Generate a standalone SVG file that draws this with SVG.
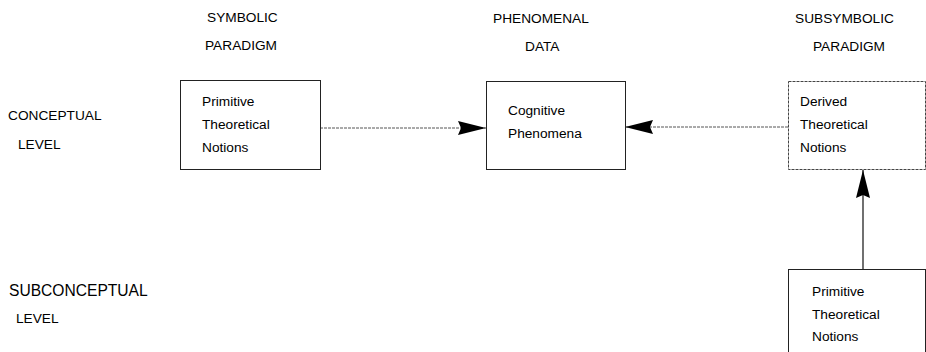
<svg xmlns="http://www.w3.org/2000/svg" width="926" height="352" viewBox="0 0 926 352">
<style>
text{font-family:"Liberation Sans",Arial,sans-serif;font-size:13.7px;fill:#000}
.big{font-size:15.6px}
.box{fill:#fff;stroke:#222;stroke-width:1}
.dbox{fill:#fff;stroke:#444;stroke-width:1;stroke-dasharray:3 1}
.dline{stroke:#555;stroke-width:1;stroke-dasharray:3 1;fill:none}
.sline{stroke:#111;stroke-width:1.2;fill:none}
</style>
<defs>
<marker id="ah" markerUnits="userSpaceOnUse" markerWidth="30" markerHeight="16" refX="28" refY="7" orient="auto">
<path d="M0,0 L28,7 L0,14 L3,7 Z" fill="#000"/>
</marker>
</defs>
<rect width="926" height="352" fill="#fff"/>
<g id="headers">
<text x="207" y="22">SYMBOLIC</text>
<text x="205" y="50">PARADIGM</text>
<text x="493" y="23">PHENOMENAL</text>
<text x="525" y="51">DATA</text>
<text x="795" y="23">SUBSYMBOLIC</text>
<text x="813" y="51">PARADIGM</text>
<text x="8" y="120">CONCEPTUAL</text>
<text x="18" y="149">LEVEL</text>
<text class="big" x="9" y="296">SUBCONCEPTUAL</text>
<text x="16" y="323">LEVEL</text>
</g>
<g id="connectors">
<path class="dline" d="M320,128 L486,128" marker-end="url(#ah)"/>
<path class="dline" d="M788,127 L625,127" marker-end="url(#ah)"/>
<path class="sline" d="M863,269 L863,170" marker-end="url(#ah)"/>
</g>
<g id="sym-primitive">
<rect class="box" x="180.5" y="80.5" width="140" height="89"/>
<text x="202" y="106">Primitive</text>
<text x="202" y="129">Theoretical</text>
<text x="202" y="152">Notions</text>
</g>
<g id="cognitive-phenomena">
<rect class="box" x="486.5" y="81.5" width="139" height="88"/>
<text x="508" y="115">Cognitive</text>
<text x="508" y="138">Phenomena</text>
</g>
<g id="derived">
<rect class="dbox" x="788.5" y="81.5" width="137" height="88"/>
<text x="800" y="106">Derived</text>
<text x="800" y="129">Theoretical</text>
<text x="800" y="152">Notions</text>
</g>
<g id="subsym-primitive">
<rect class="box" x="788.5" y="269.5" width="137" height="95"/>
<text x="812" y="296">Primitive</text>
<text x="812" y="319">Theoretical</text>
<text x="812" y="341">Notions</text>
</g>
</svg>
